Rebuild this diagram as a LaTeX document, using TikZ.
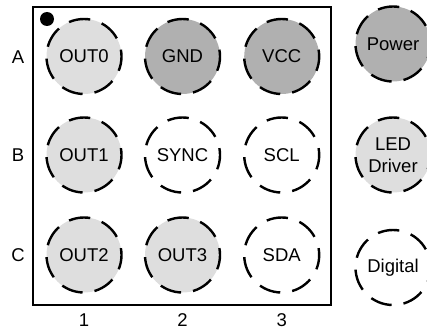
\documentclass[tikz,border=0pt]{standalone}
\usepackage{fontspec}
\setmainfont{Liberation Sans}
\tikzset{
  pin/.style={circle,draw=black,line width=2.4pt,minimum size=75pt,inner sep=0pt,align=center,
    font=\fontsize{18.5pt}{21.5pt}\selectfont,text=black,dash pattern=on 21.6pt off 12.06pt,dash phase=14.7pt},
  lightpin/.style={pin,fill=lightfill},
  darkpin/.style={pin,fill=darkfill},
  openpin/.style={pin,fill=white},
  axislabel/.style={font=\fontsize{18.5pt}{21.5pt}\selectfont,text=black,inner sep=0pt},
}
\definecolor{lightfill}{HTML}{DEDEDE}
\definecolor{darkfill}{HTML}{B0B0B0}
\begin{document}
\begin{tikzpicture}[x=1pt,y=-1pt]
\useasboundingbox (0,0) rectangle (427,334);
\clip (0,0) rectangle (427,334);
\fill[white] (0,0) rectangle (427,334);
\node[draw=black,line width=2.6pt,minimum width=298pt,minimum height=298pt,inner sep=0pt] (pkg) at (182,156) {};
\node[circle,fill=black,minimum size=14pt,inner sep=0pt] (dot) at (47,19) {};
\node[lightpin] (a1) at (84,56.5) {OUT0};
\node[darkpin] (a2) at (182.5,56.5) {GND};
\node[darkpin] (a3) at (281.7,56.5) {VCC};
\node[lightpin] (b1) at (84,155) {OUT1};
\node[openpin] (b2) at (182.5,155) {SYNC};
\node[openpin] (b3) at (281.7,155) {SCL};
\node[lightpin] (c1) at (84,255) {OUT2};
\node[lightpin] (c2) at (182.5,255) {OUT3};
\node[openpin] (c3) at (281.7,255) {SDA};
\node[darkpin] (pw) at (393,44) {Power};
\node[lightpin] (ld) at (393,155) {LED\\Driver};
\node[openpin] (dg) at (393,267.5) {Digital};
\node[axislabel] (la) at (18,57) {A};
\node[axislabel] (lb) at (18,155) {B};
\node[axislabel] (lc) at (18,255) {C};
\node[axislabel] (n1) at (84,320) {1};
\node[axislabel] (n2) at (182.5,320) {2};
\node[axislabel] (n3) at (281.7,320) {3};
\end{tikzpicture}
\end{document}
